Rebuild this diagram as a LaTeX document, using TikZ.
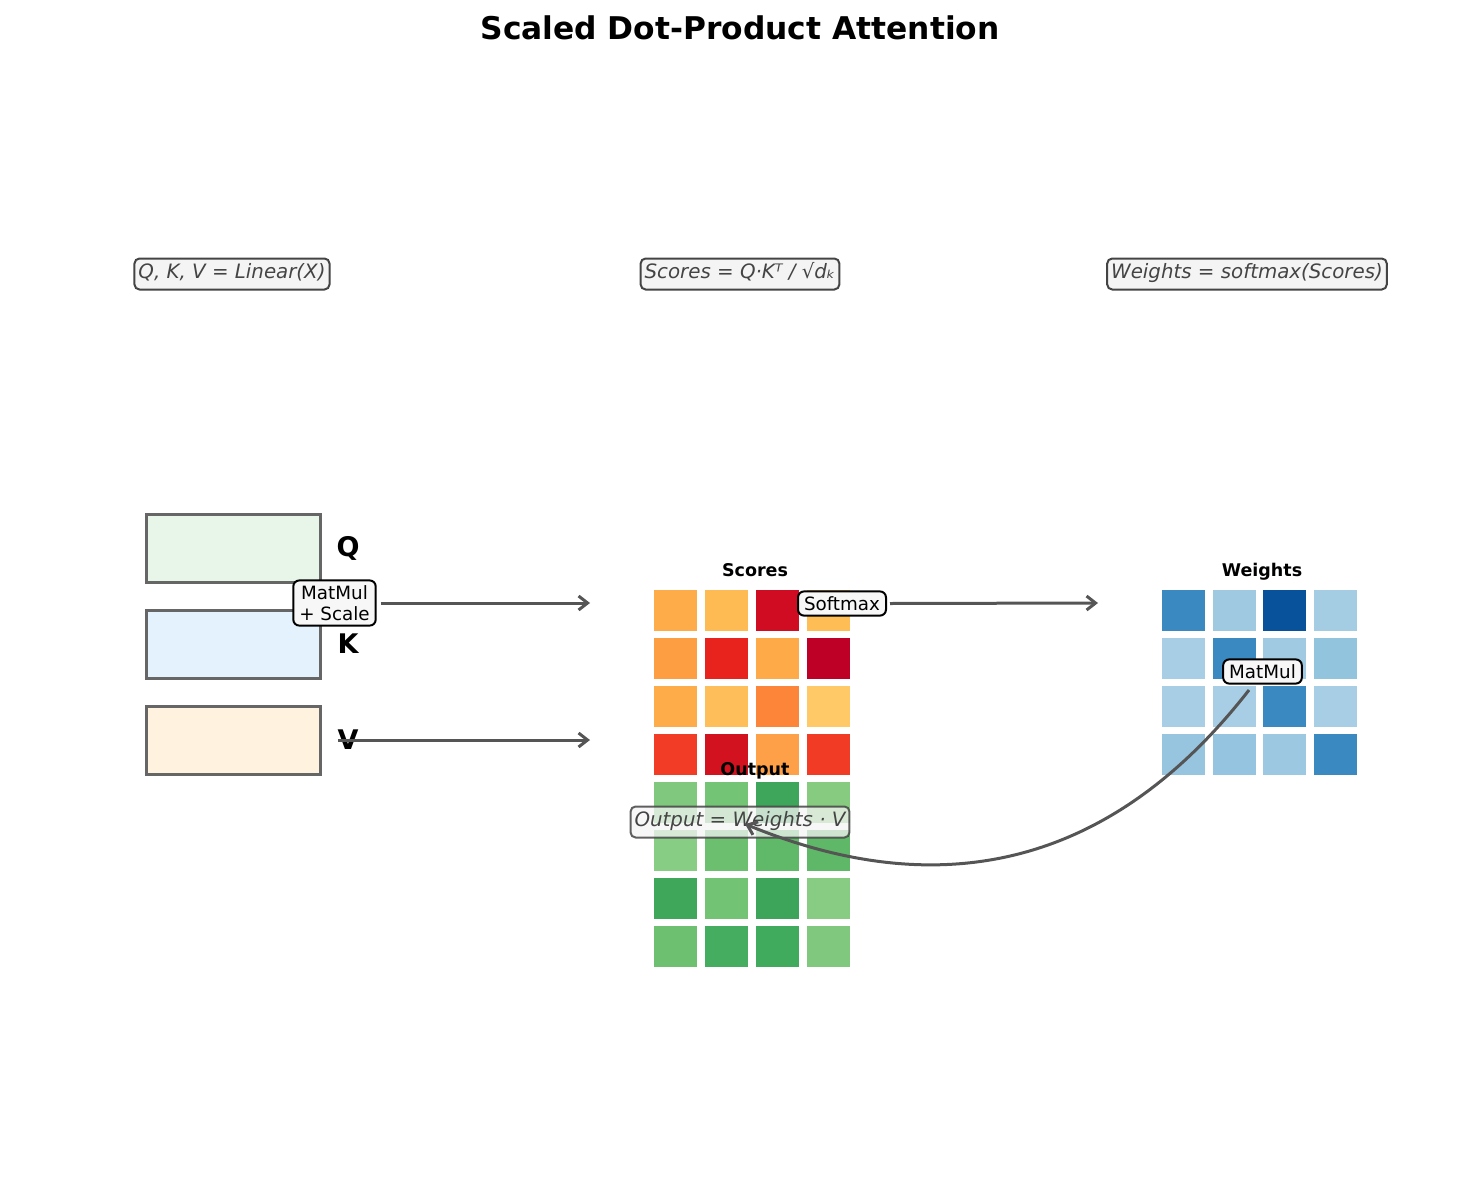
\documentclass[tikz,border=0pt]{standalone}
\usepackage{fontspec}
\setmainfont{DejaVu Sans}[ItalicFont={DejaVu Sans Oblique},BoldFont={DejaVu Sans Bold},BoldItalicFont={DejaVu Sans Bold Oblique}]
\usetikzlibrary{arrows.meta}
\definecolor{edgegray}{HTML}{666666}
\definecolor{arrowgray}{HTML}{555555}
\definecolor{txtgray}{HTML}{444444}
\definecolor{boxgray}{HTML}{F4F4F4}
\definecolor{qfill}{HTML}{E8F5E9}
\definecolor{kfill}{HTML}{E3F2FD}
\definecolor{vfill}{HTML}{FFF3E0}
\begin{document}
\begin{tikzpicture}[x=1pt,y=-1pt,
  formula/.style={draw=txtgray, fill=boxgray, rounded corners=5pt, line width=2pt, text=txtgray,
    font=\fontsize{19.8}{23}\selectfont\itshape, inner xsep=4pt, inner ysep=4pt},
  opbox/.style={draw=black, fill=white!97!black, rounded corners=6pt, line width=2pt,
    font=\fontsize{18.3}{21}\selectfont, align=center, inner xsep=6pt, inner ysep=5pt},
  inbox/.style={draw=edgegray, line width=3pt, minimum width=174pt, minimum height=68pt, inner sep=0pt},
  inlabel/.style={font=\fontsize{27}{30}\selectfont\bfseries},
  gridlabel/.style={font=\fontsize{17.5}{20}\selectfont\bfseries, anchor=base},
  flow/.style={draw=arrowgray, line width=3pt, -{Straight Barb[length=9pt,width=14pt,line width=3pt]}}
]
\useasboundingbox (0,0) rectangle (1480,1180);

% title
\node[anchor=base, font=\fontsize{31.3}{36}\selectfont\bfseries] (title) at (740,40) {Scaled Dot-Product Attention};

% formula boxes
\node[formula] (f1) at (232,274) {\strut Q, K, V = Linear(X)};
\node[formula] (f2) at (740,274) {\strut Scores = Q·Kᵀ / √dₖ};
\node[formula] (f3) at (1247,274) {\strut Weights = softmax(Scores)};

% input boxes
\node[inbox, fill=qfill] (Q) at (233,548.5) {};
\node[inbox, fill=kfill] (K) at (233,644.5) {};
\node[inbox, fill=vfill] (V) at (233,740) {};
\node[inlabel] (ql) at (348,548) {Q};
\node[inlabel] (kl) at (348,644) {K};
\node[inlabel] (vl) at (348,740) {V};

% grids
\def\cw{43}\def\ch{41}
% Scores
\foreach \r/\row in {0/{FEAB49,FEBB53,CF0C22,FEBD55},1/{FD9E43,E8231E,FEAA48,BE0026},2/{FEAB49,FEBF5A,FC8539,FEC966},3/{F23C25,D2121F,FDA047,F13B24}}{
  \foreach \c [count=\j from 0] in \row {
    \definecolor{cc}{HTML}{\c}
    \fill[cc] (654+50.9*\j, 590+48*\r) rectangle ++(\cw,\ch);
  }
}
% Output
\foreach \r/\row in {0/{80C87E,74C476,3DA65B,86CB80},1/{88CD84,6BBF6E,60B968,5EB867},2/{3EA75A,73C375,3DA55A,87CC82},3/{6CC070,45AD5F,40AA5D,80C87D}}{
  \foreach \c [count=\j from 0] in \row {
    \definecolor{cc}{HTML}{\c}
    \fill[cc] (654+50.9*\j, 782+48*\r) rectangle ++(\cw,\ch);
  }
}
% Weights
\foreach \r/\row in {0/{3A89C1,9FC9E0,08529C,A4CCE3},1/{A7CEE4,3A89C1,A0CAE1,93C4DE},2/{A7CEE4,A7CEE4,3A89C1,A7CEE4},3/{97C5DF,94C4DF,9CC9E1,3A89C1}}{
  \foreach \c [count=\j from 0] in \row {
    \definecolor{cc}{HTML}{\c}
    \fill[cc] (1162+50.6*\j, 590+48*\r) rectangle ++(\cw,\ch);
  }
}
\node[gridlabel] (scl) at (755,576) {Scores};
\node[gridlabel] (wl) at (1262,576) {Weights};
\node[gridlabel] (ol) at (755,775) {Output};

% operation boxes
\node[opbox] (qk) at (334.5,603) {MatMul\\+ Scale};
\node[opbox] (sm) at (842,603.5) {Softmax};
\node[opbox] (mm) at (1262.5,671.5) {MatMul};

% output formula
\node[formula, fill opacity=0.75, draw opacity=0.85, text opacity=1] (f4) at (740,822) {\strut Output = Weights · V};

% connectors
\coordinate (qkend) at (590,603);
\coordinate (vstart) at (338,740);
\coordinate (vend) at (590,740);
\coordinate (smend) at (1098,603);
\coordinate (mmstart) at (1249,690);
\coordinate (outend) at (745,824);
\draw[flow] ([xshift=4pt]qk.east) -- (qkend);
\draw[flow] (vstart) -- (vend);
\draw[flow] ([xshift=3pt]sm.east) -- (smend);
\draw[flow] (mmstart) .. controls (1115,862) and (947,907) .. (outend);
\end{tikzpicture}
\end{document}
